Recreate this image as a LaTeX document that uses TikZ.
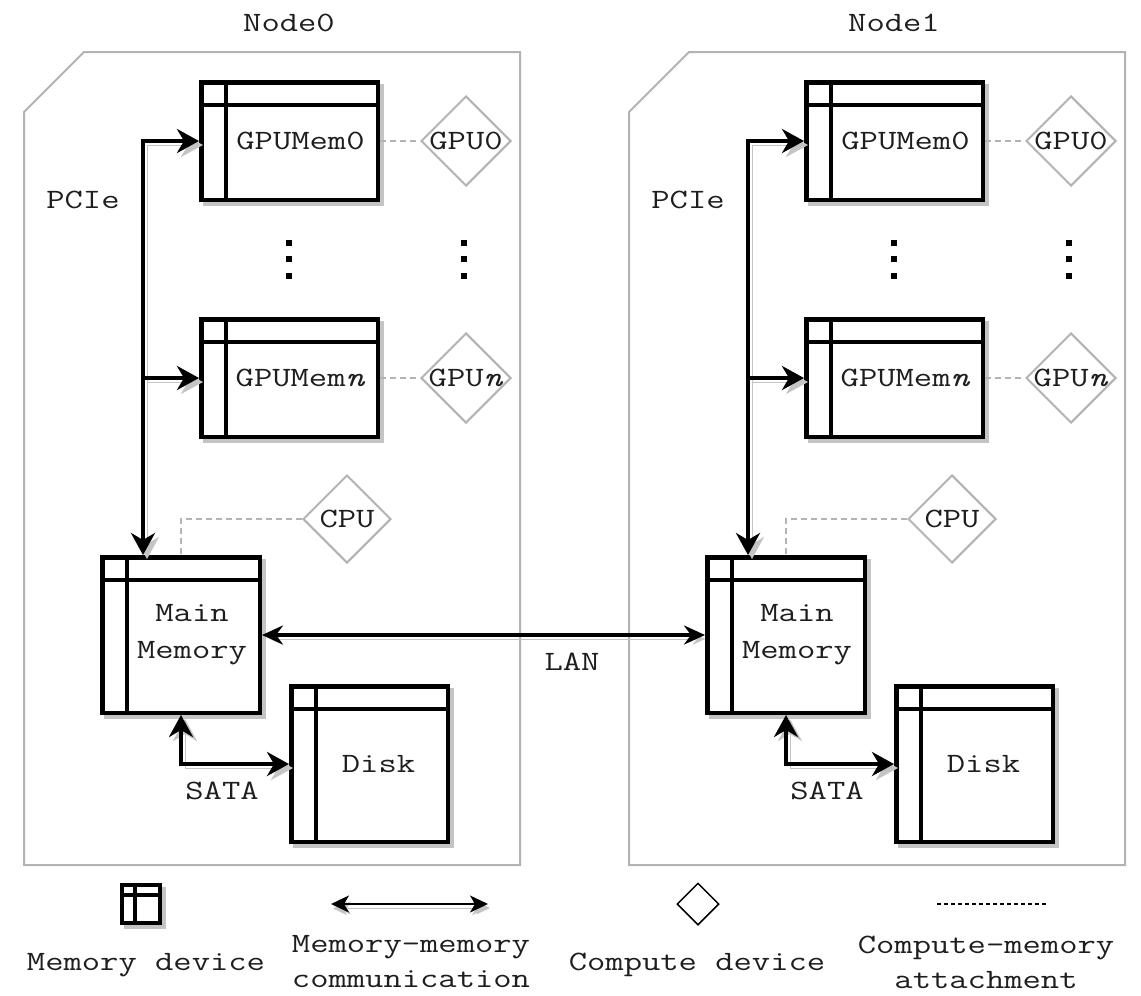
\documentclass[tikz,border=0pt]{standalone}
\usepackage{fontspec}
\usepackage{graphicx}
\usetikzlibrary{shapes.geometric,arrows.meta}
\definecolor{cgray}{HTML}{B3B3B3}
\definecolor{shd}{HTML}{C4C4C4}
\definecolor{txtc}{HTML}{1E1E1E}
\newcommand\cw[1]{\scalebox{1.27}[1]{#1}}
\newcommand\memlines[4]{% node, header offset, column offset, width
  \draw[line width=#4] ([yshift=-#2]#1.north west) -- ([yshift=-#2]#1.north east);
  \draw[line width=#4] ([xshift=#3]#1.north west) -- ([xshift=#3]#1.south west);}
\tikzset{
  lbl/.style={font=\fontsize{28}{37}\selectfont\ttfamily, text=txtc, inner sep=0pt, align=center},
  mem/.style={draw=black, line width=4.5pt, fill=white,
    preaction={draw=shd, fill=shd, transform canvas={shift={(4pt,-4pt)}}}},
  comp/.style={diamond, draw=cgray, line width=2pt, fill=white, inner sep=0pt,
    minimum width=#1, minimum height=#1},
  cont/.style={draw=cgray, line width=2pt},
  att/.style={draw=cgray, line width=2pt, dash pattern=on 6pt off 4pt},
  link/.style={draw=black, line width=4.5pt,
    >={Stealth[length=22pt,width=24pt,inset=7pt]},
    preaction={draw=shd, transform canvas={shift={(4pt,-4pt)}}}},
  dotsq/.style={fill=black, inner sep=0pt, minimum size=5.5pt}
}
\newcommand\machine[3]{% suffix, xshift, index
\begin{scope}[xshift=#2]
  \draw[cont] (24,112) -- (84,52) -- (520,52) -- (520,865) -- (24,865) -- cycle;
  \node[lbl] (title#1) at (289,23) {\cw{Node#3}};
  % memory devices
  \node[mem, minimum width=176.5pt, minimum height=117.5pt] (gmz#1) at (289.5,141) {};
  \memlines{gmz#1}{25pt}{27pt}{4pt}
  \node[lbl] (tgmz#1) at ([xshift=11pt]gmz#1.center) {\cw{GPUMem0}};
  \node[mem, minimum width=176.5pt, minimum height=117.5pt] (gmn#1) at (289.5,378) {};
  \memlines{gmn#1}{25pt}{27pt}{4pt}
  \node[lbl] (tgmn#1) at ([xshift=11pt]gmn#1.center) {\cw{GPUMem\textit{n}}};
  \node[mem, minimum width=157.5pt, minimum height=155.5pt] (mm#1) at (181,635) {};
  \memlines{mm#1}{25pt}{27pt}{4pt}
  \node[lbl] (tmm#1) at ([xshift=11pt]mm#1.center) {\cw{Main}\\\cw{Memory}};
  \node[mem, minimum width=156.5pt, minimum height=155.5pt] (disk#1) at (369.5,764) {};
  \memlines{disk#1}{25pt}{27pt}{4pt}
  \node[lbl] (tdisk#1) at ([xshift=9pt]disk#1.center) {\cw{Disk}};
  % compute devices
  \node[comp=90pt] (gpuz#1) at (466,141) {};
  \node[lbl] (tgpuz#1) at (gpuz#1.center) {\cw{GPU0}};
  \node[comp=90pt] (gpun#1) at (466,378) {};
  \node[lbl] (tgpun#1) at (gpun#1.center) {\cw{GPU\textit{n}}};
  \node[comp=88pt] (cpu#1) at (347,519) {};
  \node[lbl] (tcpu#1) at (cpu#1.center) {\cw{CPU}};
  % ellipses
  \foreach \yy [count=\k] in {243,259,276} {
    \node[dotsq] (da\k#1) at (289,\yy) {};
    \node[dotsq] (db\k#1) at (464,\yy) {};
  }
  % attachments
  \draw[att] (gmz#1.east) -- (gpuz#1.west);
  \draw[att] (gmn#1.east) -- (gpun#1.west);
  \draw[att] (cpu#1.west) -| (mm#1.north);
  % PCIe
  \coordinate (pc#1) at (143,0);
  \draw[link, <->] (mm#1.north -| pc#1) |- (gmz#1.west);
  \draw[link, ->] (gmn#1.west -| pc#1) -- (gmn#1.west);
  \node[lbl] (tpcie#1) at (83,200) {\cw{PCIe}};
  % SATA
  \draw[link, <->] (mm#1.south) |- (disk#1.west);
  \node[lbl] (tsata#1) at (222,791) {\cw{SATA}};
\end{scope}}

\begin{document}
\begin{tikzpicture}[x=1pt,y=-1pt]
\useasboundingbox (0,0) rectangle (1141,996);
\machine{A}{0pt}{0}
\machine{B}{605pt}{1}
% LAN
\draw[link, line width=3.5pt, <->, >={Stealth[length=21pt,width=19pt,inset=7pt]}] (mmA.east) -- (mmB.west);
\node[lbl] (tlan) at (572,662) {\cw{LAN}};
% legend
\node[mem, line width=4pt, minimum width=38pt, minimum height=38pt,
  preaction={draw=shd, fill=shd, transform canvas={shift={(3.5pt,-3.5pt)}}}] (lgmem) at (141,904) {};
\memlines{lgmem}{12pt}{15pt}{3.5pt}
\node[lbl] (tlgmem) at (146,965) {\cw{Memory device}};
\coordinate (la1) at (331,904);
\coordinate (la2) at (488,904);
\draw[link, line width=2.2pt, <->, >={Stealth[length=18pt,width=17pt,inset=5pt]},
  preaction={draw=shd, transform canvas={shift={(0pt,-4.5pt)}}}] (la1) -- (la2);
\node[lbl, font=\fontsize{28}{35}\selectfont\ttfamily] (tlglink) at (411,962) {\cw{Memory-memory}\\\cw{communication}};
\node[diamond, draw=black, line width=1.5pt, inner sep=0pt, minimum width=42pt, minimum height=42pt] (lgcomp) at (698,904) {};
\node[lbl] (tlgcomp) at (697,965) {\cw{Compute device}};
\coordinate (ld1) at (937,904);
\coordinate (ld2) at (1046,904);
\draw[black, line width=1.5pt, dash pattern=on 4pt off 3pt] (ld1) -- (ld2);
\node[lbl, font=\fontsize{28}{35}\selectfont\ttfamily] (tlgatt) at (986,962) {\cw{Compute-memory}\\\cw{attachment}};
\end{tikzpicture}
\end{document}
